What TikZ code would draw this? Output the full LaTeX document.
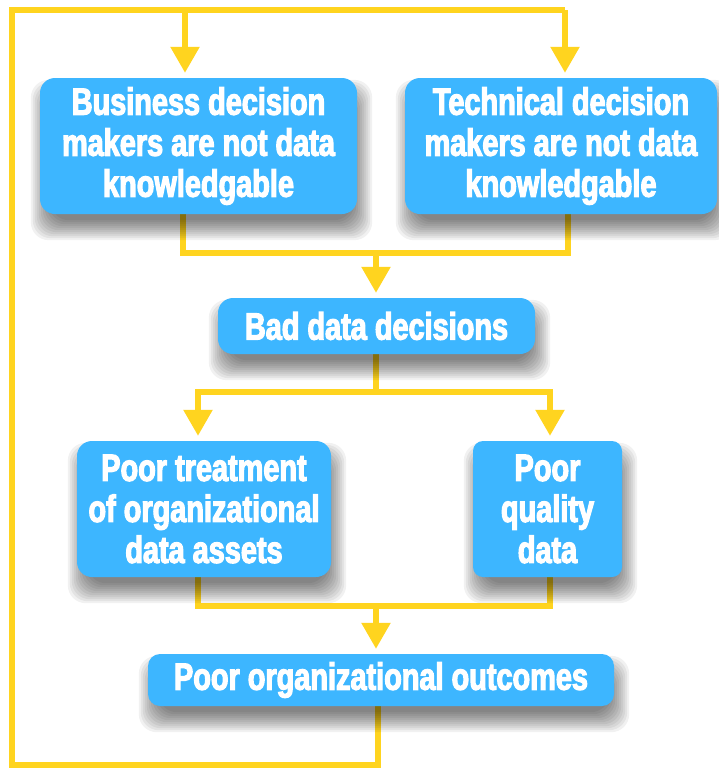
\documentclass[tikz,border=0pt]{standalone}
\usepackage{fontspec}
\newfontfamily\boxfont{Liberation Sans Bold}[FakeStretch=0.76,FakeBold=3]
\usetikzlibrary{arrows.meta,calc}
\definecolor{boxblue}{HTML}{3DB6FF}
\definecolor{lineyellow}{HTML}{FFD41F}
\pgfdeclarelayer{back}
\pgfdeclarelayer{bg}
\pgfdeclarelayer{shad}
\pgfsetlayers{back,bg,shad,main}
\tikzset{
  box/.style={rectangle, rounded corners=15pt, fill=boxblue, text=white,
    font=\boxfont\fontsize{38}{41}\selectfont, align=center, inner sep=0pt},
  conn/.style={draw=lineyellow, line width=5.5pt},
  arr/.style={conn, -{Triangle[width=28pt,length=26pt]}, shorten >=5pt},
  shadowpiece/.style={fill=black, fill opacity=0.055, rounded corners=18pt},
}
\newcommand\boxshadow[1]{%
  \begin{pgfonlayer}{shad}
  \foreach \s in {-8,-6,...,12} {
    \fill[shadowpiece] ($(#1.north west)+(3-\s,14-\s)$) rectangle ($(#1.south east)+(3+\s,14+\s)$);
  }
  \end{pgfonlayer}}
\begin{document}
\begin{tikzpicture}[x=1pt,y=-1pt]
\useasboundingbox (0,0) rectangle (719,769);
\begin{pgfonlayer}{back}
\fill[white] (0,0) rectangle (719,769);
\end{pgfonlayer}
\node[box, minimum width=317pt, minimum height=136pt] (b1) at (198.5,146) {Business decision\\makers are not data\\knowledgable};
\node[box, minimum width=312pt, minimum height=136pt] (b2) at (561,146) {Technical decision\\makers are not data\\knowledgable};
\node[box, minimum width=317pt, minimum height=56pt] (b3) at (376.5,326) {Bad data decisions};
\node[box, minimum width=254pt, minimum height=136pt] (b4) at (204,509) {Poor treatment\\of organizational\\data assets};
\node[box, minimum width=149pt, minimum height=136pt, rounded corners=10pt] (b5) at (547.5,509) {Poor\\quality\\data};
\node[box, minimum width=466pt, minimum height=52pt, rounded corners=12pt] (b6) at (381,680) {Poor organizational outcomes};
\boxshadow{b1}\boxshadow{b2}\boxshadow{b3}\boxshadow{b4}\boxshadow{b5}\boxshadow{b6}
\coordinate (lb) at (12,765);
\coordinate (lt) at (12,10);
\coordinate (t1) at (185,10);
\coordinate (t2) at (565,10);
\coordinate (m12) at (376,253);
\coordinate (m3) at (376,392);
\coordinate (m45) at (376,606);
\begin{pgfonlayer}{bg}
\draw[conn] (378,0 |- b6.south) |- (lb) -- (lt) -| (t2);
\draw[arr] (t2) -- (t2 |- b2.north);
\draw[arr] (t1) -- (t1 |- b1.north);
\draw[conn] (183,0 |- b1.south) |- (m12) -| (568,0 |- b2.south);
\draw[arr] (m12) -- (m12 |- b3.north);
\draw[conn] (b3.south -| m3) -- (m3);
\draw[arr] (m3) -| (198,0 |- b4.north);
\draw[arr] (m3) -| (550,0 |- b5.north);
\draw[conn] (198,0 |- b4.south) |- (m45) -| (550,0 |- b5.south);
\draw[arr] (m45) -- (m45 |- b6.north);
\end{pgfonlayer}
\end{tikzpicture}
\end{document}
